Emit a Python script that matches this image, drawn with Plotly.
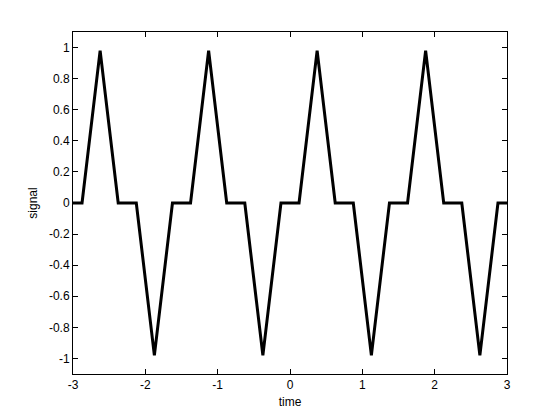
import plotly.graph_objects as go

# Vertex points of the signal
time = [-3.0, -2.875, -2.625, -2.375, -2.125, -1.875, -1.625, -1.375,
        -1.125, -0.875, -0.625, -0.375, -0.125, 0.125, 0.375, 0.625,
        0.875, 1.125, 1.375, 1.625, 1.875, 2.125, 2.375, 2.625, 2.875, 3.0]
signal = [0.0, 0.0, 0.98, 0.0, 0.0, -0.98, 0.0, 0.0,
          0.98, 0.0, 0.0, -0.98, 0.0, 0.0, 0.98, 0.0,
          0.0, -0.98, 0.0, 0.0, 0.98, 0.0, 0.0, -0.98, 0.0, 0.0]

x_ticks = [-3, -2, -1, 0, 1, 2, 3]
x_labels = ["-3", "-2", "-1", "0", "1", "2", "3"]
y_ticks = [-1, -0.8, -0.6, -0.4, -0.2, 0, 0.2, 0.4, 0.6, 0.8, 1]
y_labels = ["-1", "-0.8", "-0.6", "-0.4", "-0.2", "0", "0.2", "0.4", "0.6", "0.8", "1"]

fig = go.Figure()
fig.add_trace(go.Scatter(x=time, y=signal, mode="lines",
                         line=dict(color="black", width=3), showlegend=False))

axis_common = dict(showline=True, linecolor="black", linewidth=1, mirror="ticks",
                   ticks="inside", ticklen=5, tickcolor="black", showgrid=False,
                   zeroline=False, tickfont=dict(family="Liberation Sans", size=12, color="black"))

fig.update_layout(
    width=560, height=420,
    margin=dict(l=65, r=61, t=24, b=54),
    paper_bgcolor="white", plot_bgcolor="white",
    font=dict(family="Liberation Sans", size=12, color="black"),
    xaxis=dict(range=[-3, 3], tickvals=x_ticks, ticktext=x_labels,
               title=dict(text="time", standoff=6, font=dict(size=12)), **axis_common),
    yaxis=dict(range=[-1.1, 1.1], tickvals=y_ticks, ticktext=y_labels,
               title=dict(text="signal", standoff=8, font=dict(size=12)), **axis_common),
)

fig.write_html("out.html")
